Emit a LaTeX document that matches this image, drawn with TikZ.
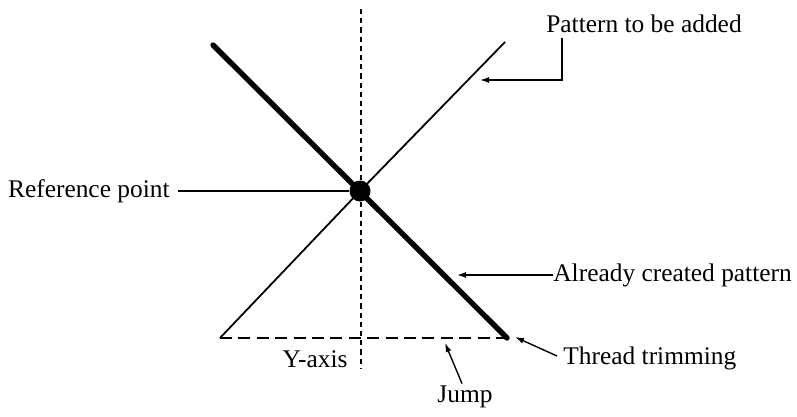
\documentclass[tikz,border=0pt]{standalone}
\usepackage{fontspec}
\setmainfont{Liberation Serif}
\usetikzlibrary{arrows.meta}
\begin{document}
\begin{tikzpicture}[x=0.5pt,y=-0.5pt,
  lbl/.style={inner sep=0pt,font=\fontsize{12.7}{15}\selectfont},
  thin/.style={line width=0.9pt},
  thickline/.style={line width=2.7pt},
  axisdash/.style={line width=0.75pt,dash pattern=on 2.6pt off 2pt},
  jumpdash/.style={line width=0.8pt,dash pattern=on 6pt off 3.2pt},
  arr/.style={line width=0.7pt,-{Latex[length=4.5pt,width=3pt]}}]
\useasboundingbox (0,0) rectangle (797,417);
% Y-axis
\coordinate (ytop) at (361,9);
\coordinate (ybot) at (361,369);
\draw[axisdash] (ytop) -- (ybot);
% corners
\coordinate (tl) at (213,45);
\coordinate (tr) at (505,42);
\coordinate (bl) at (220,338);
\coordinate (br) at (507,338);
\node[circle,fill=black,inner sep=0pt,minimum size=10.5pt] (dot) at (360,191) {};
% thin pattern to be added
\draw[thin] (bl) -- (dot.center) -- (tr);
% jump
\draw[jumpdash] (bl) -- (br);
% thick already created pattern
\draw[thickline,line cap=round] (tl) -- (br);
% labels
\node[lbl,anchor=east] (ref) at (170,191) {Reference point};
\draw[thin] (ref.east) ++(8,0) coordinate (refs) (refs) -- (dot);
\node[lbl] (pat) at (644,24) {Pattern to be added};
\coordinate (patc) at (562,80);
\coordinate (pattip) at (480,80);
\draw[arr] (pat.south -| patc) ++(0,5) coordinate (pats) (pats) -- (patc) -- (pattip);
\node[lbl,anchor=west] (acp) at (553,275) {Already created pattern};
\coordinate (acptip) at (457,275);
\draw[arr] (acp.west) -- (acptip);
\node[lbl,anchor=west] (thr) at (563,358) {Thread trimming};
\coordinate (thrtip) at (515,337);
\draw[arr] (thr.west) ++(-6,-2) coordinate (thrs) (thrs) -- (thrtip);
\node[lbl] (jump) at (465,397) {Jump};
\coordinate (jumptip) at (445,343);
\draw[arr] (jump.north) ++(-3,-2) coordinate (jumps) (jumps) -- (jumptip);
\node[lbl,anchor=east] (yax) at (348,359) {Y-axis};
\end{tikzpicture}
\end{document}
